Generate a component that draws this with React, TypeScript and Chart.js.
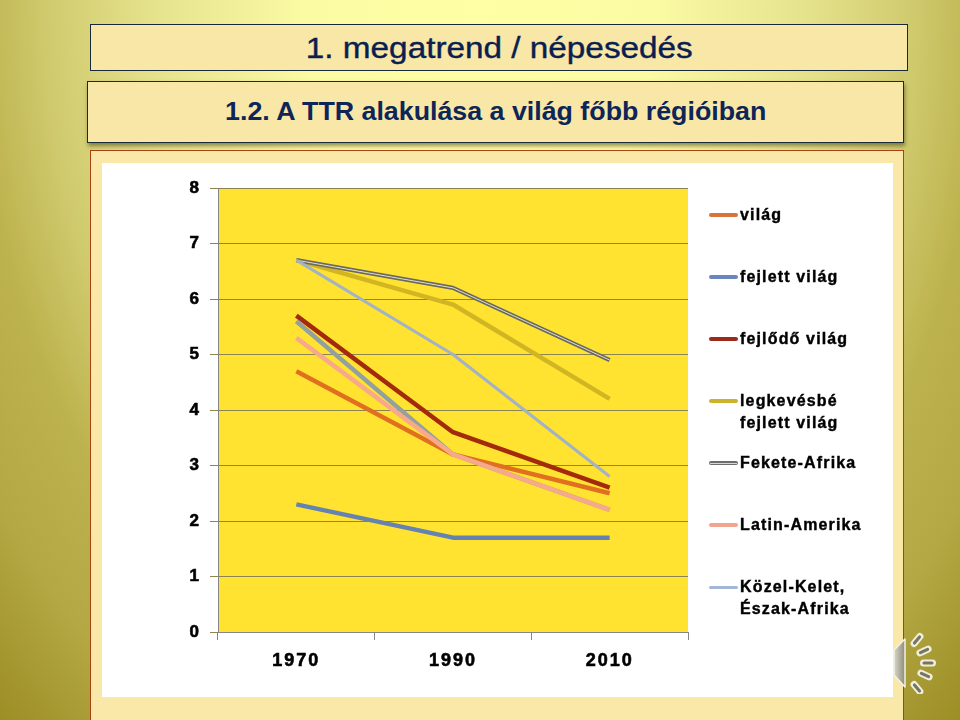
import React, { useEffect, useRef } from "react";
import { Chart, registerables } from "chart.js";

Chart.register(...registerables);

const years = ["1970", "1990", "2010"];
const vilag = [4.7, 3.2, 2.5];
const fejlett = [2.3, 1.7, 1.7];
const fejlodo = [5.7, 3.6, 2.6];
const legkevesbe = [6.7, 5.9, 4.2];
const feketeAfrika = [6.7, 6.2, 4.9];
const latinAmerika = [5.3, 3.2, 2.2];
const kozelKelet = [6.7, 5.0, 2.8];
const unlabeled = [5.6, 3.2, 2.2];

const yTicks = [0, 1, 2, 3, 4, 5, 6, 7, 8];

const legendRows: { lines: string[]; color: string; width: number; compound?: boolean }[] = [
  { lines: ["világ"], color: "#D8743A", width: 4 },
  { lines: ["fejlett világ"], color: "#6B86BE", width: 4 },
  { lines: ["fejlődő világ"], color: "#9B2A1C", width: 4 },
  { lines: ["legkevésbé", "fejlett világ"], color: "#CDB22E", width: 4 },
  { lines: ["Fekete-Afrika"], color: "#6E6E6E", width: 4, compound: true },
  { lines: ["Latin-Amerika"], color: "#F2A58E", width: 4 },
  { lines: ["Közel-Kelet,", "Észak-Afrika"], color: "#A3B6D6", width: 3 },
];

const speakerDashes = [
  [24, 8, -50],
  [31, 19, -25],
  [35, 31, 0],
  [32, 43, 25],
  [24, 56, 50],
];

const FONT = "'Liberation Sans', Arial, sans-serif";

const box = (l: number, t: number, w: number, h: number): React.CSSProperties => ({
  position: "absolute",
  left: l,
  top: t,
  width: w,
  height: h,
  boxSizing: "border-box",
});

export default function App() {
  const ref = useRef<HTMLCanvasElement>(null);

  useEffect(() => {
    document.body.style.margin = "0";
    const line = (label: string, data: number[], color: string, width: number) => ({
      label,
      data,
      borderColor: color,
      backgroundColor: color,
      borderWidth: width,
      pointRadius: 0,
      tension: 0,
      fill: false,
      borderCapStyle: "butt" as const,
      borderJoinStyle: "round" as const,
    });
    const tickFont = (size: number) => ({ family: FONT, size, weight: "bold" as const });
    const chart = new Chart(ref.current!, {
      type: "line",
      data: {
        labels: years,
        // canvas paints the first dataset on top, so the order is top-most first
        datasets: [
          line("Közel-Kelet, Észak-Afrika", kozelKelet, "#A3B3C4", 3.2),
          line("Latin-Amerika", latinAmerika, "#F7A98A", 4.5),
          line("", unlabeled, "#93A0A0", 4.5),
          line("Fekete-Afrika", feketeAfrika, "#E8E0B0", 1),
          line("Fekete-Afrika", feketeAfrika, "#686868", 4.2),
          line("legkevésbé fejlett világ", legkevesbe, "#D2B522", 4.5),
          line("fejlődő világ", fejlodo, "#A32A0C", 4.5),
          line("fejlett világ", fejlett, "#6583B0", 4.5),
          line("világ", vilag, "#E0701F", 4.5),
        ],
      },
      options: {
        animation: false,
        responsive: false,
        layout: { autoPadding: false, padding: { top: 25, right: 205, bottom: 0, left: 0 } },
        plugins: { legend: { display: false }, tooltip: { enabled: false } },
        scales: {
          x: {
            offset: true,
            afterFit: (s: any) => { s.height = 65; },
            grid: { offset: true, drawOnChartArea: false, tickLength: 8, color: "#868686" },
            border: { color: "#868686" },
            ticks: {
              padding: 10,
              color: "#000",
              maxRotation: 0,
              textStrokeColor: "#000",
              textStrokeWidth: 0.6,
              font: tickFont(18),
            },
          },
          y: {
            min: 0,
            max: 8,
            afterFit: (s: any) => { s.width = 116; },
            afterBuildTicks: (s: any) => { s.ticks = yTicks.map((value) => ({ value })); },
            grid: { color: "#8C8450", tickLength: 8 },
            border: { color: "#868686" },
            ticks: {
              padding: 9,
              color: "#000",
              textStrokeColor: "#000",
              textStrokeWidth: 0.6,
              font: tickFont(17),
            },
          },
        },
      },
      plugins: [
        {
          id: "slideStyle",
          beforeDraw(c: any) {
            const { ctx, chartArea: a } = c;
            ctx.save();
            ctx.fillStyle = "#FFE330";
            ctx.fillRect(a.left, a.top, a.right - a.left, a.bottom - a.top);
            ctx.restore();
            ctx.letterSpacing = "2px";
          },
        },
      ],
    } as any);
    return () => chart.destroy();
  }, []);

  let rowTop = 204;

  return (
    <div
      style={{
        position: "relative",
        width: 960,
        height: 720,
        overflow: "hidden",
        fontFamily: FONT,
        background:
          "radial-gradient(ellipse 700px 1000px at 50% 0px, #FFFFA4 0%, #FBFBA4 25%, #E5E28C 47%, #D0CA6E 62%, #BDB34E 72%, #B3A843 85%, #9C8C24 100%)",
      }}
    >
      <div
        style={{
          ...box(90, 24, 818, 47),
          background: "#F9E7A8",
          border: "1px solid #1A2A3A",
          color: "#0A1F50",
          fontSize: 30,
          lineHeight: "46px",
          textAlign: "center",
        }}
      >
        <span style={{ display: "inline-block", transform: "scaleX(1.11)", WebkitTextStroke: "0.4px #0A1F50" }}>
          1. megatrend / népesedés
        </span>
      </div>
      <div
        style={{
          ...box(87, 81, 817, 62),
          background: "#F9E7A8",
          border: "1px solid #1A2A3A",
          boxShadow: "1px 3px 4px rgba(60,60,20,0.55)",
          color: "#0E2557",
          fontSize: 26,
          fontWeight: 700,
          lineHeight: "58px",
          textAlign: "center",
        }}
      >
        <span style={{ display: "inline-block", transform: "scaleX(1.03)" }}>
          1.2. A TTR alakulása a világ főbb régióiban
        </span>
      </div>
      <div
        style={{
          ...box(90, 150, 814, 580),
          background: "#FAE8A8",
          border: "1px solid #A8420E",
        }}
      />
      <div style={{ ...box(102, 163, 791, 534), background: "#FFF" }}>
        <canvas ref={ref} width={791} height={534} style={{ display: "block" }} />
      </div>
      {legendRows.map((r) => {
        const top = rowTop;
        rowTop += 62;
        return (
          <div key={r.lines[0]}>
            <div
              style={{
                ...box(709, top + 11 - r.width / 2, 29, r.width),
                background: r.color,
                borderRadius: 2,
              }}
            />
            {r.compound && (
              <div style={{ ...box(710, top + 11 - 0.5, 27, 1), background: "#D8D8D0" }} />
            )}
            <div
              style={{
                ...box(740, top, 150, 44),
                color: "#000",
                fontSize: 16,
                fontWeight: 700,
                letterSpacing: 1.15,
                lineHeight: "22px",
                whiteSpace: "nowrap",
                WebkitTextStroke: "0.4px #000",
              }}
            >
              {r.lines.map((t) => (
                <div key={t}>{t}</div>
              ))}
            </div>
          </div>
        );
      })}
      <svg style={{ ...box(893, 632, 45, 62) }} viewBox="0 0 45 62">
        <defs>
          <linearGradient id="cone" x1="0" y1="0" x2="1" y2="0">
            <stop offset="0" stopColor="#D8D6C8" />
            <stop offset="1" stopColor="#8E8C78" />
          </linearGradient>
        </defs>
        <path d="M1 18 L12 7 L12 55 L1 43 Z" fill="url(#cone)" stroke="#F4F2E4" strokeWidth="1.5" strokeLinejoin="round" />
        {speakerDashes.map((p, i) => (
          <g key={i} transform={`translate(${p[0]} ${p[1]}) rotate(${p[2]})`}>
            <line x1={-4.5} y1={0} x2={4.5} y2={0} stroke="#EFEDDC" strokeWidth="7" strokeLinecap="round" />
            <line x1={-4} y1={0} x2={4} y2={0} stroke="#77755F" strokeWidth="3" strokeLinecap="round" />
          </g>
        ))}
      </svg>
    </div>
  );
}
